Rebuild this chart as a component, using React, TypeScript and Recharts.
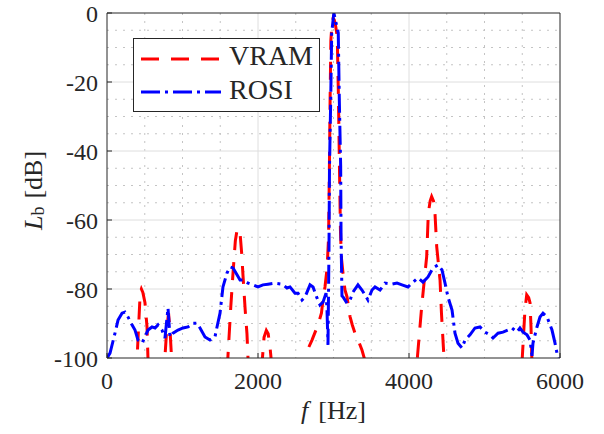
import React from 'react';
import { LineChart, Line, XAxis, YAxis, CartesianGrid, Legend, Label } from 'recharts';

// VRAM (red dashed) — frequency [Hz] and level [dB]
const vramFreq = [0, 390, 440, 455, 475, 503, 530, 548, 600, 700, 755, 790, 815, 835, 865, 950,
  1500, 1590, 1640, 1669, 1700, 1722, 1745, 1765, 1785, 1801, 1830, 1854, 1875, 1950,
  2000, 2045, 2080, 2110, 2135, 2160, 2190, 2300,
  2500, 2610, 2670, 2715, 2795, 2840, 2861, 2887, 2915, 2935, 2947, 2955, 2965, 2980, 2995, 3010, 3030, 3050, 3066, 3079, 3092, 3105, 3126, 3152, 3179, 3219, 3250, 3285, 3330, 3377, 3420, 3500,
  4000, 4095, 4168, 4234, 4256, 4280, 4300, 4325, 4344, 4367, 4411, 4430, 4455, 4475, 4550,
  5400, 5490, 5536, 5559, 5585, 5603, 5616, 5632, 5700, 6000];
const vramLevel = [-140, -104, -81, -80, -81, -84, -91, -104, -140, -140, -104, -92, -87, -92, -104, -140,
  -140, -104, -85, -75.4, -66, -63, -62.5, -64.5, -70, -76, -86, -93, -104, -140,
  -140, -104, -94, -92, -93, -97, -104, -140,
  -130, -102, -97, -94.8, -90.4, -87, -83.2, -79.4, -74, -65, -42, -25, -8, -3, -1.5, -2, -4, -7, -25, -45, -63, -71, -75.4, -80.3, -82.3, -88, -90.5, -92.8, -95, -97.7, -101, -140,
  -140, -104, -85.1, -70.6, -58, -54.5, -53.2, -54.5, -58, -67.7, -77.4, -87, -96.7, -104, -140,
  -140, -104, -86, -81.7, -82.5, -84, -91, -104, -140, -140];

// ROSI (blue dash-dot) — frequency [Hz] and level [dB]
const rosiFreq = [0, 40, 106, 146, 199, 238, 278, 331, 371, 411, 464, 503, 543, 596, 636, 675, 728, 768, 808, 834, 874,
  940, 1007, 1073, 1139, 1192, 1232, 1298, 1364, 1430, 1457, 1497, 1536, 1589, 1629, 1669, 1722, 1762, 1801, 1868, 1934,
  2000, 2066, 2132, 2225, 2318, 2384, 2424, 2490, 2530, 2583, 2623, 2689, 2729, 2781, 2821, 2861, 2901, 2914, 2927,
  2940, 2947, 2963, 2976, 3005, 3063, 3077, 3095, 3100, 3108, 3112, 3126, 3179, 3219, 3258, 3324, 3377, 3417, 3457,
  3510, 3550, 3616, 3682, 3775, 3841, 3907, 3987, 4040, 4119, 4185, 4252, 4318, 4384, 4437, 4477, 4516, 4570, 4609,
  4649, 4702, 4742, 4808, 4874, 4940, 5007, 5073, 5113, 5179, 5245, 5311, 5364, 5430, 5470, 5510, 5563, 5603, 5629,
  5642, 5695, 5735, 5775, 5828, 5894, 5934, 5960, 6000];
const rosiLevel = [-100, -98.6, -92.8, -89, -87, -86.7, -88.1, -90.4, -91.9, -94.8, -95.7, -93.9, -91.9, -91, -91.3, -90.4, -91.9, -94.2, -85.5, -93.9, -92.8,
  -91.9, -91.3, -91, -89.9, -89.9, -91.3, -93.9, -94.8, -93.9, -91, -87, -79.4, -75.4, -73.6, -73.9, -75.9, -77.4, -77.4, -78.3, -78.8,
  -79.4, -78.8, -78.6, -78.3, -78.6, -79.7, -79.4, -81.2, -81.2, -83.2, -82.3, -78.8, -79.4, -82.6, -84.6, -83.8, -81.2, -86.1, -96.2,
  -68.7, -44.6, -25.2, -5.8, 0, -5.8, -25.2, -44.6, -65, -76, -82, -82.3, -84.1, -83.2, -80.9, -78.8, -80.3, -81.7, -83.2,
  -80.3, -79.4, -80.3, -78.3, -78.6, -78.3, -78.8, -79.4, -78.3, -76.8, -78, -76.5, -73.9, -73, -74.5, -78.3, -82.3, -86.1, -92.8,
  -95.7, -97.1, -94.8, -93.3, -91.3, -91, -92.5, -93.3, -94.2, -92.8, -92.5, -91.9, -91.3, -92.5, -91.3, -92.5, -93.3, -94.8, -99.4,
  -95.7, -91, -88.1, -87, -88.1, -91.9, -95.7, -98.6, -101];

const xTicks = [0, 2000, 4000, 6000];
const yTicks = [-100, -80, -60, -40, -20, 0];
const xMajorGrid = [2000, 4000];
const yMajorGrid = [-80, -60, -40, -20];
const xMinorGrid = [500, 1000, 1500, 2500, 3000, 3500, 4500, 5000, 5500];
const yMinorGrid = [-95, -90, -85, -75, -70, -65, -55, -50, -45, -35, -30, -25, -15, -10, -5];

const vramData = vramFreq.map((f, i) => ({ f, v: vramLevel[i] }));
const rosiData = rosiFreq.map((f, i) => ({ f, v: rosiLevel[i] }));

const FONT = "'Liberation Serif', 'DejaVu Serif', serif";
const INK = '#262626';
const RED_DASH = '18 12';
const BLUE_DASH = '19 5 3 5';
const LW = 3;

const renderLegend = () => (
  <div style={{ width: 187, height: 74, border: `1px solid ${INK}`, background: '#fff', boxSizing: 'border-box' }}>
    <svg width={185} height={72} style={{ display: 'block' }}>
      <line x1={7} x2={87} y1={20} y2={20} stroke="#ff0000" strokeWidth={LW} strokeDasharray={RED_DASH} />
      <text x={95} y={26} fontFamily={FONT} fontSize={28} fill={INK}>VRAM</text>
      <line x1={7} x2={87} y1={53} y2={53} stroke="#0000ff" strokeWidth={LW} strokeDasharray={BLUE_DASH} />
      <text x={95} y={60} fontFamily={FONT} fontSize={28} fill={INK}>ROSI</text>
    </svg>
  </div>
);

const YLabel = (props: any) => {
  const vb = props.viewBox || { x: 0, y: 0, width: 0, height: 0 };
  const cx = vb.x + 33;
  const cy = vb.y + vb.height / 2 + 5;
  return (
    <text x={cx} y={cy} transform={`rotate(-90 ${cx} ${cy})`} textAnchor="middle" dominantBaseline="central"
      fontFamily={FONT} fontSize={26} fill={INK}>
      <tspan fontStyle="italic">L</tspan>
      <tspan dy={5} fontSize={18}>b</tspan>
      <tspan dy={-5} dx={8}>[dB]</tspan>
    </text>
  );
};

const XLabel = (props: any) => {
  const vb = props.viewBox || { x: 0, y: 0, width: 0, height: 0 };
  const cx = vb.x + vb.width / 2;
  const cy = vb.y + 52;
  return (
    <text x={cx} y={cy} textAnchor="middle" dominantBaseline="central" fontFamily={FONT} fontSize={26} fill={INK}>
      <tspan fontStyle="italic">f</tspan>
      <tspan dx={10}>[Hz]</tspan>
    </text>
  );
};

export default function App() {
  return (
    <div style={{ position: 'absolute', left: 0, top: 0 }}>
      <LineChart width={604} height={434} margin={{ top: 12, right: 43, bottom: 16, left: 0 }}>
        <CartesianGrid stroke="#c4c4c4" strokeDasharray="2 6" verticalValues={xMinorGrid} horizontalValues={yMinorGrid} />
        <CartesianGrid stroke="#dedede" verticalValues={xMajorGrid} horizontalValues={yMajorGrid} />
        <XAxis xAxisId={0} dataKey="f" type="number" domain={[0, 6000]} ticks={xTicks} interval={0}
          height={60} tickSize={-5} tickMargin={19} allowDataOverflow
          axisLine={{ stroke: INK }} tickLine={{ stroke: INK }}
          tick={{ fontFamily: FONT, fontSize: 24, fill: INK }}>
          <Label content={XLabel} />
        </XAxis>
        <XAxis xAxisId="top" orientation="top" dataKey="f" type="number" domain={[0, 6000]} ticks={xTicks} interval={0}
          height={1} tickSize={-5} tick={false} allowDataOverflow
          axisLine={{ stroke: INK }} tickLine={{ stroke: INK }} />
        <YAxis yAxisId={0} type="number" domain={[-100, 0]} ticks={yTicks} interval={0}
          width={107} tickSize={-5} tickMargin={14} allowDataOverflow
          axisLine={{ stroke: INK }} tickLine={{ stroke: INK }}
          tick={{ fontFamily: FONT, fontSize: 24, fill: INK }}>
          <Label content={YLabel} />
        </YAxis>
        <YAxis yAxisId="right" orientation="right" type="number" domain={[-100, 0]} ticks={yTicks} interval={0}
          width={1} tickSize={-5} tick={false} allowDataOverflow
          axisLine={{ stroke: INK }} tickLine={{ stroke: INK }} />
        <Legend layout="horizontal" verticalAlign="middle" align="center" content={renderLegend}
          wrapperStyle={{ left: 133, top: 38, width: 187, height: 74 }} />
        <Line data={vramData} dataKey="v" xAxisId={0} yAxisId={0} type="linear" stroke="#ff0000" strokeWidth={LW}
          strokeDasharray={RED_DASH} dot={false} activeDot={false} isAnimationActive={false} />
        <Line data={rosiData} dataKey="v" xAxisId={0} yAxisId={0} type="linear" stroke="#0000ff" strokeWidth={LW}
          strokeDasharray={BLUE_DASH} dot={false} activeDot={false} isAnimationActive={false} />
      </LineChart>
    </div>
  );
}
